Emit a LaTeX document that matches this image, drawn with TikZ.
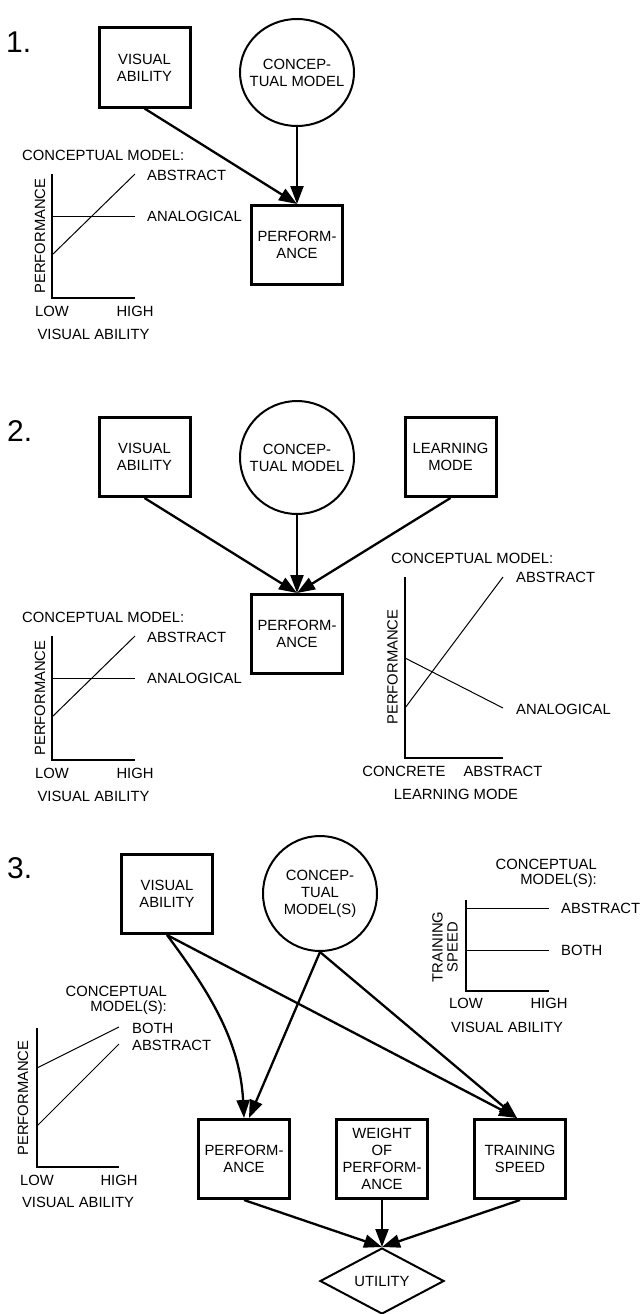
\documentclass[tikz,border=0pt]{standalone}
\usepackage{fontspec}
\setmainfont{Liberation Sans}
\usetikzlibrary{positioning,arrows.meta,shapes.geometric}

\begin{document}
\begin{tikzpicture}[x=1pt, y=-1pt, >={Triangle[length=18pt,width=13pt]},
    every node/.style={font=\fontsize{14.8}{17}\selectfont, inner sep=0pt},
    varbox/.style={draw, line width=3pt, minimum width=91pt, minimum height=79pt, align=center},
    varcirc/.style={draw, ellipse, line width=2pt, minimum width=114pt, inner xsep=-8pt, align=center},
    flow/.style={->, line width=2.3pt},
    axis/.style={line width=1.8pt},
    trend/.style={line width=1pt},
    lbl/.style={anchor=west},
    twoline/.style={font=\fontsize{14.8}{15}\selectfont},
    num/.style={font=\fontsize{30}{30}\selectfont, anchor=west}]
  \useasboundingbox (0,0) rectangle (640,1314);

  % ---- 1.
  \node[num] (n1) at (6,42.5) {1.};
  \node[varbox] (va1) at (144.5,67.5) {VISUAL\\ABILITY};
  \node[varcirc, minimum height=107pt] (cm1) at (297,72.5) {CONCEP-\\TUAL MODEL};
  \node[varbox] (pf1) at (297,245) {PERFORM-\\ANCE};
  \draw[flow] (va1.south) -- (pf1.north);
  \draw[flow] (cm1.south) -- (pf1.north);

  \node[lbl] (g1t) at (22,155) {CONCEPTUAL MODEL:};
  \draw[axis] (52,174) -- (52,298) -- (135,298);
  \draw[trend] (52,255) -- (135,174);
  \draw[trend] (52,216) -- (135,216);
  \node[lbl] (g1a) at (147,175) {ABSTRACT};
  \node[lbl] (g1b) at (147,216) {ANALOGICAL};
  \node[rotate=90] (g1y) at (40,236) {PERFORMANCE};
  \node (g1lo) at (52,311) {LOW};
  \node (g1hi) at (135,311) {HIGH};
  \node (g1x) at (93.5,334) {VISUAL ABILITY};

  % ---- 2.
  \node[num] (n2) at (7,431.5) {2.};
  \node[varbox] (va2) at (144.5,457) {VISUAL\\ABILITY};
  \node[varcirc, minimum height=113pt] (cm2) at (297,457.5) {CONCEP-\\TUAL MODEL};
  \node[varbox] (lm2) at (450.5,457) {LEARNING\\MODE};
  \node[varbox] (pf2) at (297,634) {PERFORM-\\ANCE};
  \draw[flow] (va2.south) -- (pf2.north);
  \draw[flow] (cm2.south) -- (pf2.north);
  \draw[flow] (lm2.south) -- (pf2.north);

  \node[lbl] (g2t) at (22,617) {CONCEPTUAL MODEL:};
  \draw[axis] (52,636) -- (52,760) -- (135,760);
  \draw[trend] (52,717) -- (135,636);
  \draw[trend] (52,678) -- (135,678);
  \node[lbl] (g2a) at (147,637) {ABSTRACT};
  \node[lbl] (g2b) at (147,678) {ANALOGICAL};
  \node[rotate=90] (g2y) at (40,698) {PERFORMANCE};
  \node (g2lo) at (52,773) {LOW};
  \node (g2hi) at (135,773) {HIGH};
  \node (g2x) at (93.5,796) {VISUAL ABILITY};

  \node[lbl] (g3t) at (391,558) {CONCEPTUAL MODEL:};
  \draw[axis] (405,577) -- (405,758) -- (503,758);
  \draw[trend] (405,708) -- (503,577);
  \draw[trend] (405,658) -- (503,708);
  \node[lbl] (g3a) at (516,577) {ABSTRACT};
  \node[lbl] (g3b) at (516,709) {ANALOGICAL};
  \node[rotate=90] (g3y) at (392.5,667) {PERFORMANCE};
  \node (g3lo) at (404,771) {CONCRETE};
  \node (g3hi) at (503,771) {ABSTRACT};
  \node (g3x) at (456,794) {LEARNING MODE};

  % ---- 3.
  \node[num] (n3) at (7,868) {3.};
  \node[varbox] (va3) at (167,894) {VISUAL\\ABILITY};
  \node[varcirc, minimum height=115pt] (cm3) at (320,893.5) {CONCEP-\\TUAL\\MODEL(S)};
  \node[varbox] (pf3) at (244,1159) {PERFORM-\\ANCE};
  \node[varbox] (wt3) at (382,1159) {WEIGHT\\OF\\PERFORM-\\ANCE};
  \node[varbox] (ts3) at (520,1159) {TRAINING\\SPEED};
  \node[draw, diamond, line width=2pt, minimum width=124pt, minimum height=66pt] (ut3) at (382,1281) {UTILITY};
  \draw[flow] (va3.south) .. controls (208,990) and (240,1040) .. (pf3.north);
  \draw[flow] (cm3.south) -- ([xshift=5pt]pf3.north);
  \draw[flow] (va3.south) -- ([xshift=-3pt]ts3.north);
  \draw[flow] (cm3.south) -- ([xshift=-3pt]ts3.north);
  \draw[flow] (pf3.south) -- (ut3.north);
  \draw[flow] (wt3.south) -- (ut3.north);
  \draw[flow] (ts3.south) -- (ut3.north);

  \node[twoline, align=right, anchor=east] (g4t) at (167,1000.5) {CONCEPTUAL\\MODEL(S):};
  \draw[axis] (37,1028) -- (37,1167) -- (119,1167);
  \draw[trend] (37,1068) -- (119,1027);
  \draw[trend] (37,1126) -- (119,1044);
  \node[lbl] (g4a) at (132,1028) {BOTH};
  \node[lbl] (g4b) at (132,1045) {ABSTRACT};
  \node[rotate=90] (g4y) at (23,1098) {PERFORMANCE};
  \node (g4lo) at (37,1180) {LOW};
  \node (g4hi) at (119,1180) {HIGH};
  \node (g4x) at (78,1202) {VISUAL ABILITY};

  \node[twoline, align=right, anchor=east] (g5t) at (597,873) {CONCEPTUAL\\MODEL(S):};
  \draw[axis] (466,900) -- (466,991) -- (549,991);
  \draw[trend] (466,908) -- (549,908);
  \draw[trend] (466,950) -- (549,950);
  \node[lbl] (g5a) at (561,908) {ABSTRACT};
  \node[lbl] (g5b) at (561,950) {BOTH};
  \node[twoline, rotate=90, align=center] (g5y) at (445,947) {TRAINING\\SPEED};
  \node (g5lo) at (466,1003) {LOW};
  \node (g5hi) at (549,1003) {HIGH};
  \node (g5x) at (507,1027) {VISUAL ABILITY};
\end{tikzpicture}
\end{document}
